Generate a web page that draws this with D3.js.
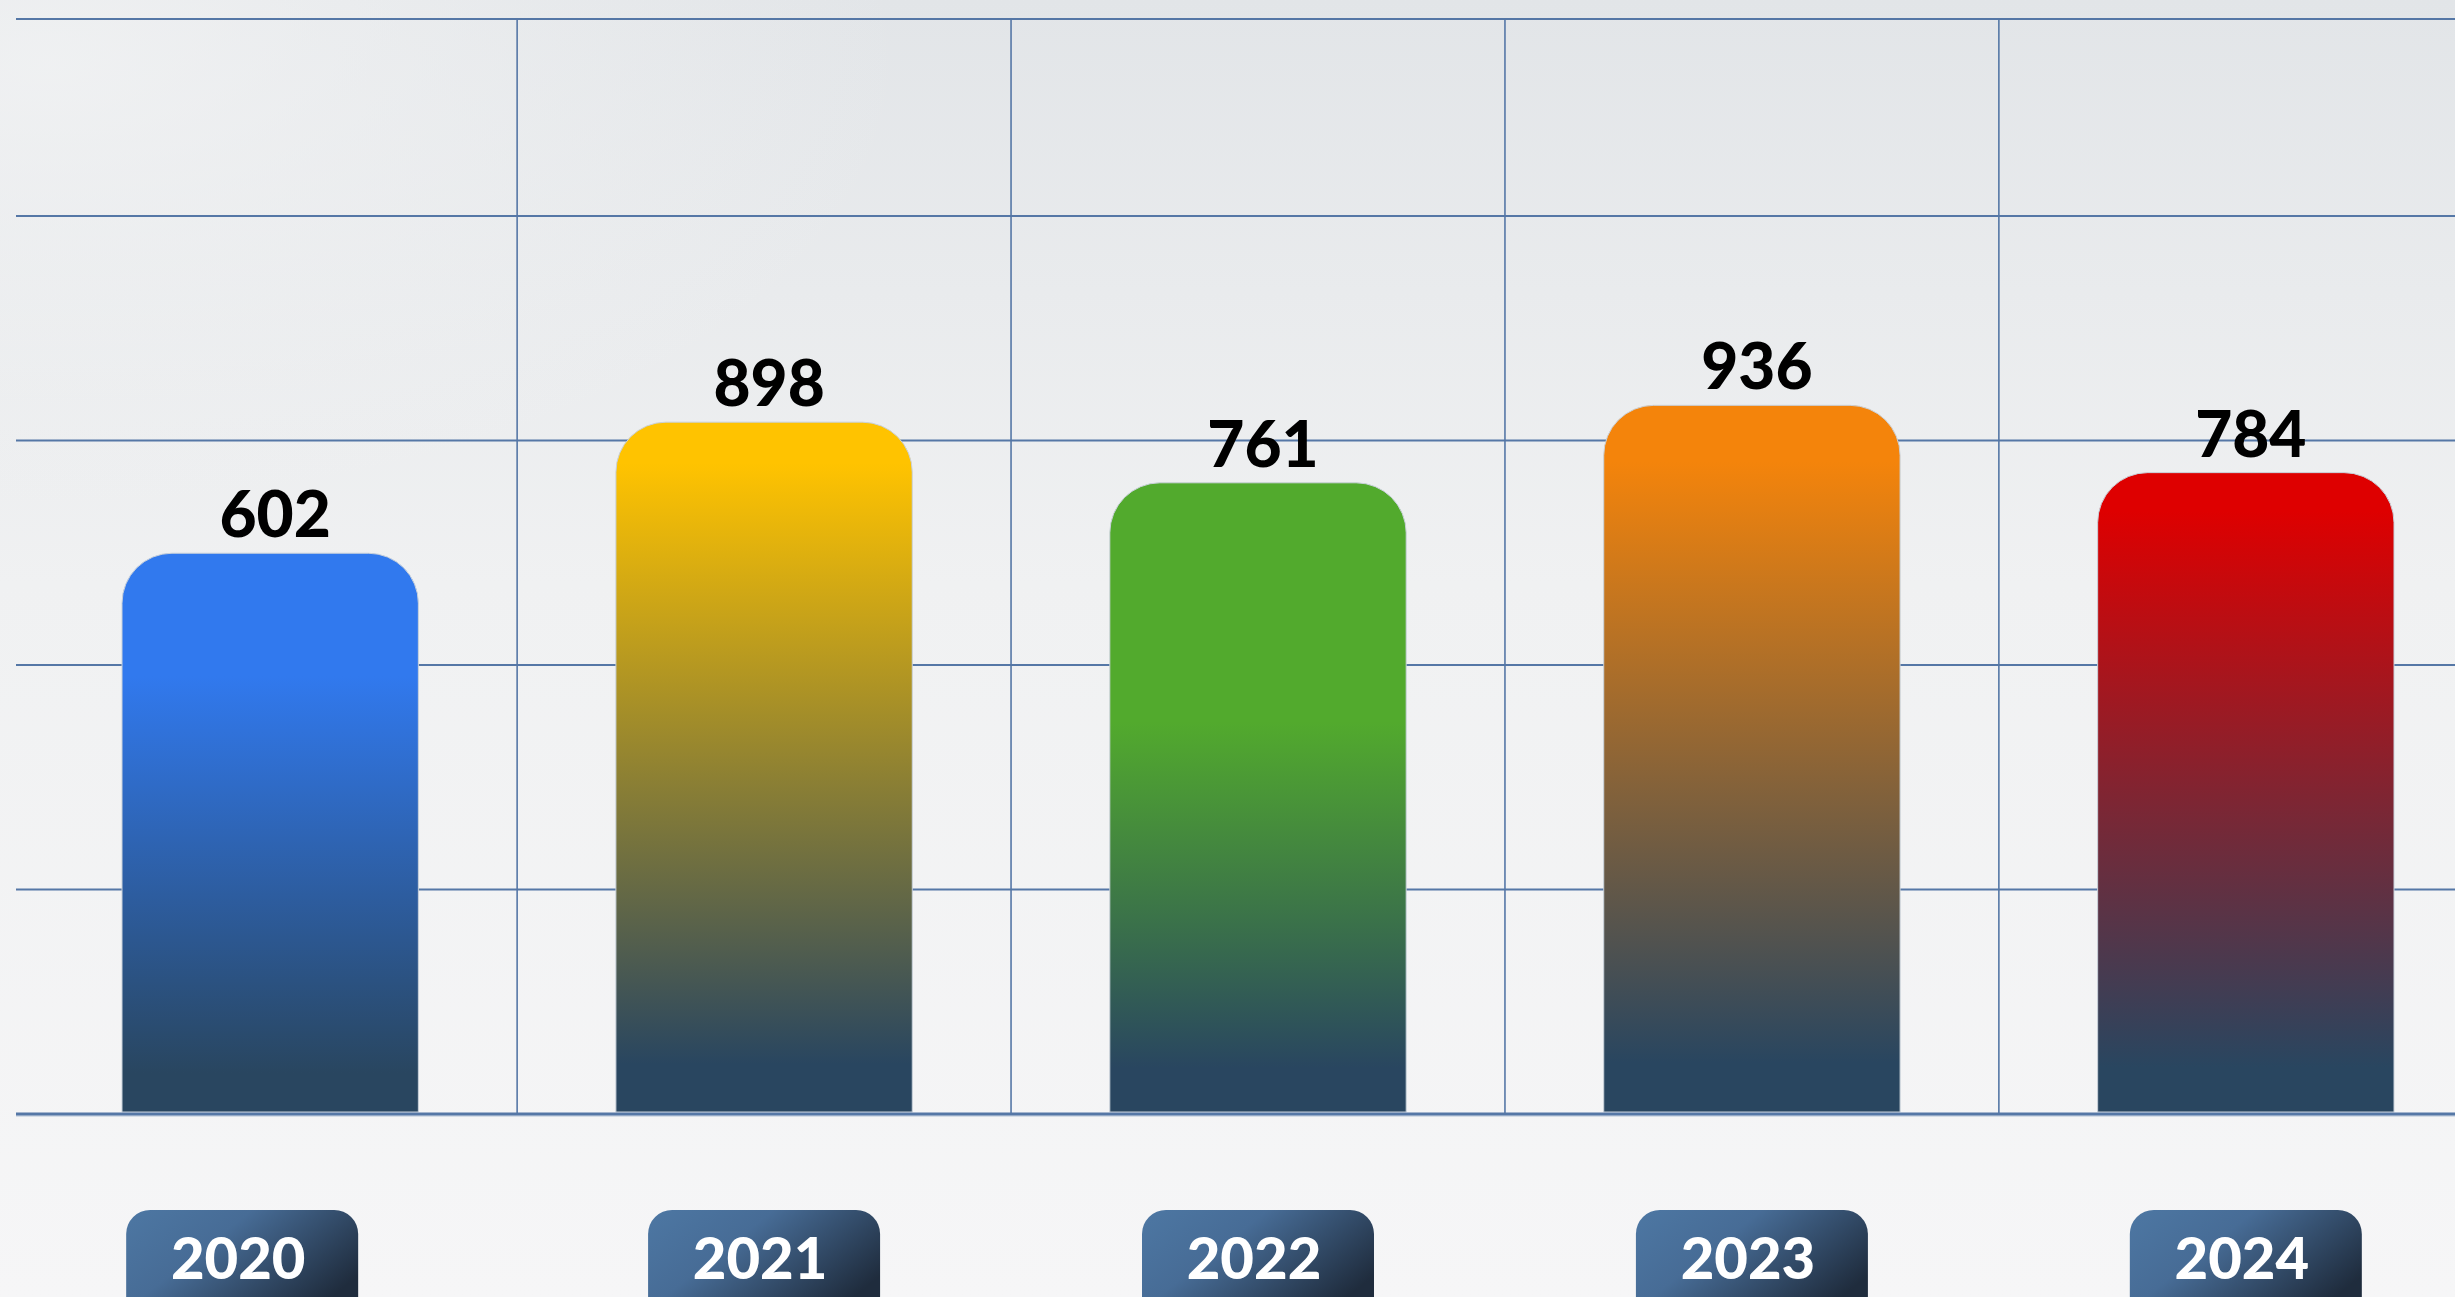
<!DOCTYPE html>
<html>
<head>
<meta charset="utf-8">
<script src="https://cdn.jsdelivr.net/npm/d3@7"></script>
<style>
  html, body { margin: 0; padding: 0; background: #f3f4f5; }
  svg { display: block; }
</style>
</head>
<body>
<svg id="chart" width="2455" height="1297"></svg>
<script>
// ---- data ----
const years = ["2020", "2021", "2022", "2023", "2024"];
const values = [602, 898, 761, 936, 784];
const topColors = ["#3179ee", "#ffc300", "#52aa2d", "#f4840b", "#de0000"];
const bottomColor = "#294660";

const W = 2455, H = 1297;
const svg = d3.select("#chart");
const defs = svg.append("defs");

// background
const bg = defs.append("linearGradient").attr("id", "bg").attr("x1", 0).attr("y1", 0).attr("x2", 0).attr("y2", 1);
bg.append("stop").attr("offset", "0%").attr("stop-color", "#e2e5e8");
bg.append("stop").attr("offset", "45%").attr("stop-color", "#f0f1f2");
bg.append("stop").attr("offset", "100%").attr("stop-color", "#f6f6f7");
svg.append("rect").attr("width", W).attr("height", H).attr("fill", "url(#bg)");
const bg2 = defs.append("radialGradient").attr("id", "bg2").attr("cx", 0.02).attr("cy", 0.05).attr("r", 0.35);
bg2.append("stop").attr("offset", "0%").attr("stop-color", "#f2f3f4").attr("stop-opacity", 0.8);
bg2.append("stop").attr("offset", "100%").attr("stop-color", "#f2f3f4").attr("stop-opacity", 0);
svg.append("rect").attr("width", W).attr("height", H).attr("fill", "url(#bg2)");

// scales
const x = d3.scaleBand().domain(years).range([122, 2394]).paddingInner(0.4).paddingOuter(0);
const baseY = 1112;
const y = d3.scaleLinear().domain([-660, 1000]).range([baseY, baseY - 735]);
const grid = d3.scaleLinear().domain([0, 4]).range([1114, 216]);
const topLineY = 19;

// gridlines
const gridColor = "#5577a6";
const g = svg.append("g");
g.selectAll("line.h").data(d3.range(1, 5)).join("line")
  .attr("x1", 16).attr("x2", W).attr("y1", d => grid(d)).attr("y2", d => grid(d))
  .attr("stroke", gridColor).attr("stroke-width", 2);
g.append("line").attr("x1", 16).attr("x2", W).attr("y1", topLineY).attr("y2", topLineY)
  .attr("stroke", gridColor).attr("stroke-width", 2);
// vertical separators between categories
const seps = years.slice(1).map((yr, i) => (x(years[i]) + x.bandwidth() + x(yr)) / 2);
g.selectAll("line.v").data(seps).join("line")
  .attr("x1", d => d).attr("x2", d => d).attr("y1", topLineY).attr("y2", grid(0))
  .attr("stroke", gridColor).attr("stroke-width", 1.6);

// bar gradients
const holdStops = [0.22, 0.06, 0.38, 0.08, 0.06];
years.forEach((yr, i) => {
  const lg = defs.append("linearGradient").attr("id", "bar" + i).attr("x1", 0).attr("y1", 0).attr("x2", 0).attr("y2", 1);
  const mix = d3.interpolateRgb(topColors[i], bottomColor);
  lg.append("stop").attr("offset", 0).attr("stop-color", topColors[i]);
  lg.append("stop").attr("offset", holdStops[i]).attr("stop-color", topColors[i]);
  lg.append("stop").attr("offset", holdStops[i] + (1 - holdStops[i]) * 0.5).attr("stop-color", mix(0.55));
  lg.append("stop").attr("offset", 0.93).attr("stop-color", bottomColor);
  lg.append("stop").attr("offset", 1).attr("stop-color", bottomColor);
});

function roundTopRect(x0, y0, w, h, r) {
  r = Math.min(r, w / 2, h);
  return `M${x0},${y0 + h}V${y0 + r}A${r},${r} 0 0 1 ${x0 + r},${y0}H${x0 + w - r}A${r},${r} 0 0 1 ${x0 + w},${y0 + r}V${y0 + h}Z`;
}

const bars = svg.append("g");
bars.selectAll("path").data(years).join("path")
  .attr("d", (d, i) => roundTopRect(x(d), y(values[i]), x.bandwidth(), y(-660) - y(values[i]), 50))
  .attr("fill", (d, i) => `url(#bar${i})`)
  .attr("stroke", "#c9d1da").attr("stroke-width", 1);

// baseline (drawn over bar bottoms)
svg.append("line").attr("x1", 16).attr("x2", W).attr("y1", grid(0) + 2).attr("y2", grid(0) + 2)
  .attr("stroke", "#d4dce6").attr("stroke-width", 2);
svg.append("line").attr("x1", 16).attr("x2", W).attr("y1", grid(0)).attr("y2", grid(0))
  .attr("stroke", gridColor).attr("stroke-width", 3);

// value labels
svg.append("g").selectAll("text").data(years).join("text")
  .attr("x", d => x(d) + x.bandwidth() / 2 + 5)
  .attr("y", (d, i) => y(values[i]) - 16)
  .attr("text-anchor", "middle")
  .attr("font-family", "Lato, 'Open Sans', sans-serif")
  .attr("font-weight", 900)
  .attr("font-size", 64)
  .attr("fill", "#000")
  .text((d, i) => values[i]);

// year badges
const bgGrad = defs.append("linearGradient").attr("id", "badge").attr("x1", 0).attr("y1", 0).attr("x2", 1).attr("y2", 0.6);
bgGrad.append("stop").attr("offset", "0%").attr("stop-color", "#4d77a3");
bgGrad.append("stop").attr("offset", "40%").attr("stop-color", "#476c96");
bgGrad.append("stop").attr("offset", "100%").attr("stop-color", "#1f2c3d");
const badgeW = 232, badgeTop = 1210, badgeH = 110;
const badges = svg.append("g").selectAll("g").data(years).join("g")
  .attr("transform", d => `translate(${x(d) + x.bandwidth() / 2 - badgeW / 2 + (d === "2020" ? -28 : 0)},${badgeTop})`);
badges.append("rect").attr("width", badgeW).attr("height", badgeH).attr("rx", 24)
  .attr("fill", "url(#badge)");
badges.append("text").attr("x", badgeW / 2 - 4).attr("y", 69)
  .attr("text-anchor", "middle")
  .attr("font-family", "Lato, 'Open Sans', sans-serif")
  .attr("font-weight", 900)
  .attr("font-size", 58)
  .attr("fill", "#ffffff")
  .text(d => d);
</script>
</body>
</html>
